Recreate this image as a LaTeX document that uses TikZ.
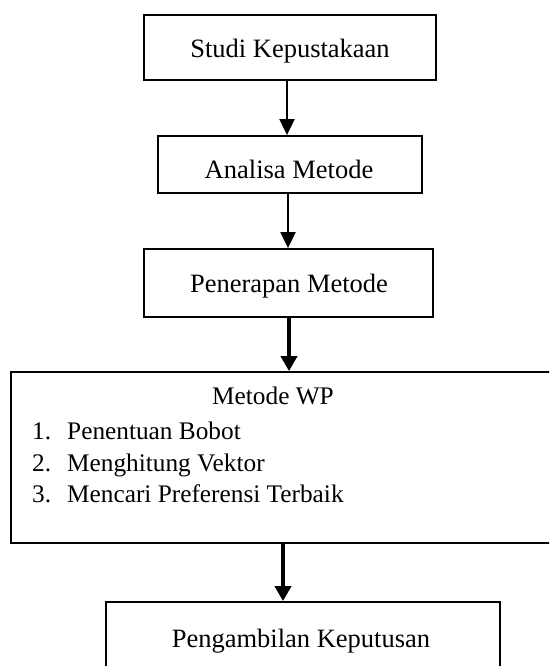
\documentclass[tikz,border=0pt]{standalone}
\usepackage{fontspec}
\setmainfont{Liberation Serif}
\usetikzlibrary{arrows.meta}
\begin{document}
\begin{tikzpicture}[x=1pt,y=-1pt,
  box/.style={draw=black,line width=1.8pt,rectangle,inner sep=0pt,font=\fontsize{26.5}{31}\selectfont},
  txt/.style={inner sep=0pt,font=\fontsize{26.5}{31}\selectfont},
  listtxt/.style={inner sep=0pt,font=\fontsize{25.3}{30}\selectfont},
  thinarr/.style={line width=2pt,-{Triangle[length=16pt,width=15pt]}},
  thickarr/.style={line width=4.5pt,-{Triangle[length=15pt,width=16pt]}}]
\useasboundingbox (0,0) rectangle (549,666);
\clip (0,0) rectangle (549,666);
\node[box,minimum width=292pt,minimum height=65pt] (b1) at (290,47.5) {};
\node[txt] (t1) at (290,51) {Studi Kepustakaan};
\node[box,minimum width=264pt,minimum height=57pt] (b2) at (290,164.5) {};
\node[txt] (t2) at (289,169) {Analisa Metode};
\node[box,minimum width=289pt,minimum height=68pt] (b3) at (288.5,283) {};
\node[txt] (t3) at (289,286) {Penerapan Metode};
\node[box,minimum width=544pt,minimum height=171pt] (b4) at (283,457.5) {};
\node[listtxt] (t4) at (273,396) {Metode WP};
\node[listtxt,anchor=base west] (n1) at (32,439) {1.};
\node[listtxt,anchor=base west] (i1) at (67,439) {Penentuan Bobot};
\node[listtxt,anchor=base west] (n2) at (32,471) {2.};
\node[listtxt,anchor=base west] (i2) at (67,471) {Menghitung Vektor};
\node[listtxt,anchor=base west] (n3) at (32,502) {3.};
\node[listtxt,anchor=base west] (i3) at (67,502) {Mencari Preferensi Terbaik};
\node[box,minimum width=394pt,minimum height=90pt] (b5) at (303,647) {};
\node[txt] (t5) at (301,641) {Pengambilan Keputusan};
\draw[thinarr] ([xshift=-3pt]b1.south) -- ([xshift=-3pt]b1.south |- b2.north);
\draw[thinarr] ([xshift=-2pt]b2.south) -- ([xshift=-2pt]b2.south |- b3.north);
\draw[thickarr] ([xshift=0.5pt]b3.south) -- ([xshift=0.5pt]b3.south |- b4.north);
\draw[thickarr] (b4.south) -- (b4.south |- b5.north);
\end{tikzpicture}
\end{document}
